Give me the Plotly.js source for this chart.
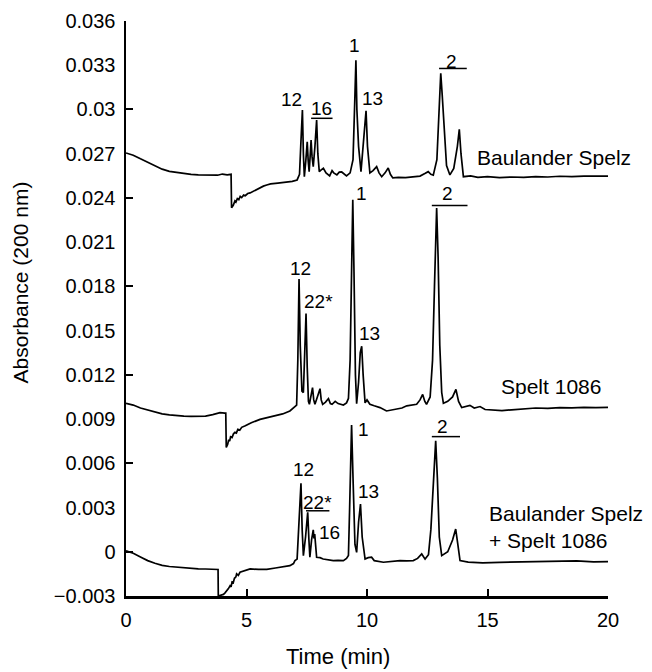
<!DOCTYPE html>
<html>
<head>
<meta charset="utf-8">
<script src="https://cdn.plot.ly/plotly-3.0.1.min.js"></script>
<style>html,body{margin:0;padding:0;background:#fff;}#chart{width:652px;height:672px;}</style>
</head>
<body>
<div id="chart"></div>
<script>
// ---- Data ----
const timeTop = [0,0.3,0.6,0.9,1.2,1.5,1.8,2.1,2.4,2.7,3.0,3.3,3.6,3.8,4.0,4.2,4.36,4.38,4.45,4.52,4.56,4.62,4.68,4.74,4.80,4.88,4.95,5.05,5.15,5.3,5.5,5.7,5.84,6.0,6.3,6.6,6.9,7.1,7.2,7.25,7.32,7.36,7.40,7.46,7.52,7.56,7.60,7.64,7.68,7.72,7.77,7.84,7.91,7.96,8.02,8.10,8.19,8.30,8.40,8.45,8.55,8.62,8.75,8.85,8.95,9.05,9.15,9.30,9.42,9.50,9.54,9.58,9.65,9.75,9.85,9.96,10.02,10.12,10.25,10.40,10.50,10.61,10.75,10.88,10.97,11.07,11.3,11.6,11.9,12.2,12.4,12.54,12.65,12.75,12.90,12.98,13.06,13.12,13.2,13.3,13.44,13.6,13.75,13.83,13.9,14.0,14.3,14.6,15.0,15.5,16.0,16.5,17.0,17.5,18.0,18.5,19.0,19.5,20.0];
const absTop = [0.02705,0.02690,0.02665,0.02640,0.02615,0.02595,0.02580,0.02572,0.02565,0.02560,0.02557,0.02555,0.02558,0.02554,0.02562,0.02556,0.02560,0.02333,0.02350,0.02380,0.02372,0.02395,0.02388,0.02410,0.02402,0.02420,0.02415,0.02430,0.02434,0.02448,0.02462,0.02480,0.02488,0.02495,0.02500,0.02504,0.02512,0.02522,0.02560,0.02750,0.02996,0.02700,0.02544,0.02650,0.02781,0.02650,0.02578,0.02680,0.02793,0.02680,0.02612,0.02750,0.02928,0.02700,0.02578,0.02590,0.02601,0.02570,0.02560,0.02550,0.02585,0.02570,0.02556,0.02575,0.02576,0.02560,0.02550,0.02570,0.02660,0.03100,0.03334,0.03000,0.02750,0.02578,0.02750,0.02991,0.02750,0.02570,0.02585,0.02612,0.02570,0.02544,0.02570,0.02603,0.02560,0.02536,0.02540,0.02538,0.02543,0.02548,0.02565,0.02578,0.02560,0.02555,0.02660,0.02950,0.03246,0.03100,0.02850,0.02620,0.02556,0.02600,0.02750,0.02865,0.02700,0.02544,0.02550,0.02540,0.02545,0.02538,0.02542,0.02540,0.02545,0.02542,0.02547,0.02544,0.02548,0.02546,0.02548];

const timeMid = [0,0.3,0.6,0.9,1.2,1.5,1.8,2.1,2.4,2.7,3.0,3.3,3.6,3.9,4.1,4.14,4.16,4.22,4.26,4.30,4.34,4.40,4.46,4.52,4.58,4.64,4.72,4.80,4.95,5.2,5.56,5.9,6.25,6.5,6.8,7.0,7.08,7.13,7.18,7.23,7.30,7.36,7.41,7.47,7.52,7.57,7.61,7.67,7.74,7.79,7.84,7.92,7.98,8.05,8.10,8.16,8.28,8.40,8.48,8.55,8.68,8.80,9.02,9.15,9.23,9.30,9.36,9.41,9.46,9.52,9.57,9.65,9.72,9.78,9.84,9.92,10.0,10.12,10.30,10.54,10.81,11.0,11.23,11.45,11.65,11.85,12.06,12.2,12.31,12.40,12.47,12.62,12.72,12.80,12.89,12.95,13.02,13.10,13.17,13.35,13.55,13.69,13.80,13.93,14.10,14.27,14.45,14.69,14.9,15.2,15.6,16.0,16.5,17.0,17.5,18.0,18.5,19.0,19.5,20.0];
const absMid = [0.01007,0.00995,0.00975,0.00960,0.00945,0.00935,0.00928,0.00922,0.00920,0.00918,0.00917,0.00920,0.00930,0.00944,0.00940,0.00940,0.00707,0.00730,0.00760,0.00750,0.00780,0.00775,0.00800,0.00810,0.00805,0.00830,0.00825,0.00844,0.00855,0.00875,0.00898,0.00912,0.00925,0.00935,0.00955,0.00985,0.00995,0.01300,0.01850,0.01400,0.01090,0.01080,0.01300,0.01616,0.01250,0.01020,0.01000,0.01060,0.01113,0.01030,0.01000,0.01040,0.01070,0.01106,0.01030,0.01000,0.01015,0.01039,0.01005,0.01000,0.01020,0.01005,0.00995,0.01010,0.01040,0.01300,0.01900,0.02387,0.01900,0.01200,0.01005,0.01150,0.01350,0.01394,0.01200,0.01010,0.01030,0.01000,0.00990,0.00978,0.00955,0.00960,0.00966,0.00975,0.00990,0.00995,0.01000,0.01030,0.01067,0.01020,0.01000,0.01050,0.01300,0.01800,0.02331,0.02000,0.01400,0.01080,0.01007,0.01020,0.01050,0.01101,0.01020,0.00978,0.00985,0.00993,0.00975,0.00985,0.00965,0.00961,0.00958,0.00963,0.00968,0.00975,0.00972,0.00978,0.00976,0.00980,0.00977,0.00980];

const timeBot = [0,0.3,0.6,0.9,1.2,1.5,1.8,2.1,2.4,2.7,3.0,3.3,3.6,3.82,3.83,4.04,4.10,4.18,4.25,4.32,4.36,4.40,4.45,4.50,4.56,4.59,4.66,4.73,4.9,5.15,5.5,5.84,6.2,6.5,6.8,6.95,7.01,7.10,7.18,7.26,7.31,7.36,7.45,7.54,7.59,7.63,7.70,7.77,7.80,7.83,7.91,8.05,8.18,8.35,8.6,8.8,9.02,9.15,9.23,9.28,9.36,9.42,9.50,9.57,9.65,9.73,9.80,9.92,10.05,10.19,10.30,10.68,11.0,11.37,11.65,11.92,12.1,12.27,12.41,12.55,12.65,12.75,12.85,12.92,13.00,13.10,13.35,13.55,13.68,13.76,13.86,14.2,14.8,15.5,16.2,16.9,17.5,18.1,18.7,19.4,20.0];
const absBot = [0.00007,-0.00010,-0.00035,-0.00060,-0.00078,-0.00092,-0.00100,-0.00105,-0.00108,-0.00112,-0.00116,-0.00117,-0.00118,-0.00120,-0.00300,-0.00289,-0.00280,-0.00267,-0.00250,-0.00230,-0.00238,-0.00205,-0.00210,-0.00180,-0.00170,-0.00150,-0.00160,-0.00139,-0.00130,-0.00116,-0.00120,-0.00120,-0.00110,-0.00100,-0.00094,-0.00080,-0.00060,-0.00050,0.00200,0.00465,0.00150,-0.00026,0.00100,0.00267,0.00080,-0.00037,0.00080,0.00149,0.00090,0.00120,-0.00037,-0.00040,-0.00049,-0.00055,-0.00060,-0.00058,-0.00060,-0.00045,-0.00026,0.00300,0.00859,0.00500,0.00050,-0.00004,0.00200,0.00323,0.00100,-0.00049,-0.00040,-0.00037,-0.00060,-0.00071,-0.00065,-0.00060,-0.00062,-0.00060,-0.00045,-0.00015,-0.00050,-0.00020,0.00150,0.00500,0.00752,0.00500,0.00100,-0.00026,0.00000,0.00080,0.00154,0.00060,-0.00060,-0.00070,-0.00076,-0.00072,-0.00070,-0.00067,-0.00064,-0.00065,-0.00062,-0.00068,-0.00067];

const yTickLabels = [-0.003,0,0.003,0.006,0.009,0.012,0.015,0.018,0.021,0.024,0.027,0.03,0.033,0.036];
const yTickMarks = [0,0.006,0.012,0.018,0.024,0.03,0.036];
const xTicks = [0,5,10,15,20];

// Peak labels
const peakText = ["12","16","1","13","2",  "12","22*","1","13","2",  "12","22*","16","1","13","2"];
const peakX    = [6.88,8.12,9.5,10.23,13.51, 7.25,8.0,9.78,10.12,13.34, 7.38,7.95,8.44,9.85,10.05,13.13];
const peakY    = [0.03068,0.03007,0.03436,0.03075,0.03323, 0.0192,0.01699,0.02433,0.0148,0.02433, 0.0056,0.00335,0.00132,0.00831,0.0041,0.00853];
// Underline bars above grouped peaks
const barX0 = [7.68,12.99,12.69,7.47,12.69];
const barX1 = [8.57,14.14,14.17,8.44,13.86];
const barY  = [0.0294,0.03278,0.02348,0.00278,0.00781];
// Sample names
const sampleText = ["Baulander Spelz","Spelt 1086","Baulander Spelz<br>+ Spelt 1086"];
const sampleX = [14.48,15.48,14.98];
const sampleY = [0.02671,0.01124,0.00171];

const FONT = "Liberation Sans, Arial, Helvetica, sans-serif";
const lineStyle = {color:"#000", width:1.7};

const traces = [
  {x:timeTop, y:absTop, type:"scatter", mode:"lines", line:lineStyle, hoverinfo:"skip", cliponaxis:false},
  {x:timeMid, y:absMid, type:"scatter", mode:"lines", line:lineStyle, hoverinfo:"skip", cliponaxis:false},
  {x:timeBot, y:absBot, type:"scatter", mode:"lines", line:lineStyle, hoverinfo:"skip", cliponaxis:false},
  {x:[], y:[], type:"scatter", yaxis:"y2", hoverinfo:"skip"}
];

const annotations = [];
peakText.forEach((t,i)=>annotations.push({x:peakX[i], y:peakY[i], xref:"x", yref:"y", text:t, showarrow:false, font:{family:FONT, size:19, color:"#000"}, xanchor:"center", yanchor:"middle"}));
sampleText.forEach((t,i)=>annotations.push({x:sampleX[i], y:sampleY[i], xref:"x", yref:"y", text:t, showarrow:false, align:"left", font:{family:FONT, size:21, color:"#000"}, xanchor:"left", yanchor:"middle"}));
annotations.push({x:0.44, y:-0.105, xref:"paper", yref:"paper", text:"Time (min)", showarrow:false, font:{family:FONT, size:22, color:"#000"}, xanchor:"center", yanchor:"middle"});
annotations.push({x:-0.218, y:0.545, xref:"paper", yref:"paper", text:"Absorbance (200 nm)", textangle:-90, showarrow:false, font:{family:FONT, size:21, color:"#000"}, xanchor:"center", yanchor:"middle"});

const shapes = barX0.map((x0,i)=>({type:"line", xref:"x", yref:"y", x0:x0, x1:barX1[i], y0:barY[i], y1:barY[i], line:{color:"#000", width:1.5}}));

const layout = {
  width:652, height:672,
  margin:{l:126, r:44, t:21, b:76},
  paper_bgcolor:"#fff", plot_bgcolor:"#fff",
  showlegend:false,
  font:{family:FONT, color:"#000"},
  xaxis:{range:[0,20], tickvals:xTicks, ticks:"inside", ticklen:7, tickwidth:2, tickcolor:"#000",
         showline:true, linewidth:2.5, linecolor:"#000", showgrid:false, zeroline:false,
         tickfont:{family:FONT, size:20, color:"#000"}, ticklabelstandoff:4, fixedrange:true},
  yaxis:{range:[-0.003,0.036], tickvals:yTickLabels, ticks:"", showline:true, linewidth:2.5, linecolor:"#000",
         showgrid:false, zeroline:false, tickfont:{family:FONT, size:20, color:"#000"}, ticklabelstandoff:4, fixedrange:true},
  yaxis2:{range:[-0.003,0.036], overlaying:"y", side:"left", tickvals:yTickMarks, ticks:"inside", ticklen:7, tickwidth:2,
          tickcolor:"#000", showticklabels:false, showline:false, showgrid:false, zeroline:false, fixedrange:true},
  annotations:annotations,
  shapes:shapes
};

Plotly.newPlot("chart", traces, layout, {staticPlot:true, displayModeBar:false});
</script>
</body>
</html>
